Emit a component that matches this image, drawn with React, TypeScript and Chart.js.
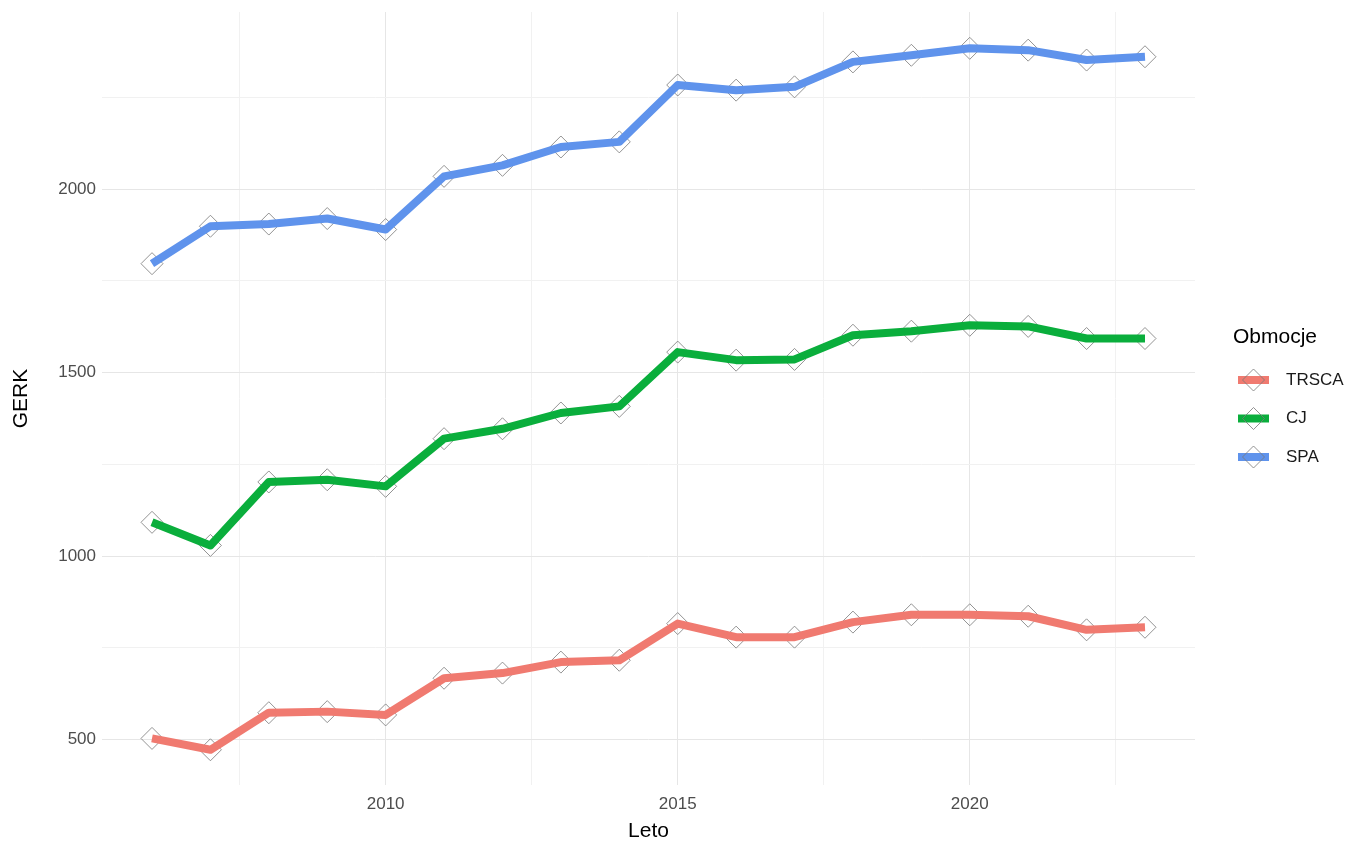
import React, { useEffect, useRef } from "react";
import { Chart, registerables } from "chart.js";

Chart.register(...registerables);

const years = [2006, 2007, 2008, 2009, 2010, 2011, 2012, 2013, 2014, 2015, 2016, 2017, 2018, 2019, 2020, 2021, 2022, 2023];
const trsca = [503, 472, 573, 576, 567, 667, 681, 711, 716, 816, 779, 779, 820, 840, 840, 836, 799, 806];
const cj = [1092, 1029, 1202, 1208, 1190, 1320, 1347, 1390, 1408, 1556, 1534, 1536, 1602, 1613, 1629, 1626, 1593, 1593];
const spa = [1797, 1899, 1905, 1920, 1890, 2035, 2065, 2115, 2129, 2284, 2270, 2279, 2347, 2365, 2384, 2379, 2352, 2361];

const seriesNames = ["TRSCA", "CJ", "SPA"];
const seriesValues = [trsca, cj, spa];
const seriesColors = ["#F07A70", "#0AAE3C", "#5F93EC"];

const yGridValues = [500, 750, 1000, 1250, 1500, 1750, 2000, 2250];
const yLabelValues = [500, 1000, 1500, 2000];
const xGridValues = [2007.5, 2010, 2012.5, 2015, 2017.5, 2020, 2022.5];
const xLabelValues = [2010, 2015, 2020];

const legendTitle = "Obmocje";
const xTitle = "Leto";
const yTitle = "GERK";

const FONT = "'Liberation Sans', Arial, sans-serif";
const MARKER_COLOR = "rgba(120,120,120,0.8)";

const legendPlugin = {
  id: "ggLegend",
  afterDraw(chart: any) {
    const ctx = chart.ctx;
    ctx.save();
    ctx.fillStyle = "#000";
    ctx.font = `21px ${FONT}`;
    ctx.textBaseline = "middle";
    ctx.textAlign = "left";
    ctx.fillText(legendTitle, 1233, 337);
    seriesNames.forEach((name, i) => {
      const y = 380 + i * 38.5;
      ctx.strokeStyle = seriesColors[i];
      ctx.lineWidth = 8;
      ctx.lineCap = "butt";
      ctx.beginPath();
      ctx.moveTo(1238, y);
      ctx.lineTo(1269, y);
      ctx.stroke();
      ctx.strokeStyle = MARKER_COLOR;
      ctx.lineWidth = 1;
      ctx.beginPath();
      ctx.moveTo(1253.5 - 11, y);
      ctx.lineTo(1253.5, y - 11);
      ctx.lineTo(1253.5 + 11, y);
      ctx.lineTo(1253.5, y + 11);
      ctx.closePath();
      ctx.stroke();
      ctx.fillStyle = "#1a1a1a";
      ctx.font = `17px ${FONT}`;
      ctx.fillText(name, 1286, y);
    });
    ctx.restore();
  },
};

export default function App() {
  const ref = useRef<HTMLCanvasElement | null>(null);

  useEffect(() => {
    if (!ref.current) return;
    const lineSets = seriesNames.map((name, i) => ({
      label: name,
      data: years.map((x, j) => ({ x, y: seriesValues[i][j] })),
      borderColor: seriesColors[i],
      backgroundColor: seriesColors[i],
      borderWidth: 8,
      borderCapStyle: "butt",
      borderJoinStyle: "round",
      pointRadius: 0,
      tension: 0,
      order: 1,
    }));
    const pointSets = seriesNames.map((name, i) => ({
      label: name + " points",
      data: years.map((x, j) => ({ x, y: seriesValues[i][j] })),
      showLine: false,
      pointStyle: "rectRot",
      pointRadius: 11,
      pointBorderWidth: 1,
      pointBorderColor: MARKER_COLOR,
      pointBackgroundColor: "rgba(0,0,0,0)",
      order: 2,
    }));

    const chart = new Chart(ref.current, {
      type: "line",
      data: { datasets: [...pointSets, ...lineSets] as any },
      options: {
        animation: false,
        responsive: true,
        maintainAspectRatio: false,
        layout: { padding: { top: 0, right: 163, left: 0, bottom: 0 } },
        plugins: { legend: { display: false }, tooltip: { enabled: false } },
        scales: {
          x: {
            type: "linear",
            min: 2005.144,
            max: 2023.856,
            afterBuildTicks: (scale: any) => {
              scale.ticks = xGridValues.map((v) => ({ value: v }));
            },
            afterFit: (scale: any) => {
              scale.height = 62;
              scale.paddingLeft = 0;
              scale.paddingRight = 0;
            },
            ticks: {
              autoSkip: false,
              maxRotation: 0,
              padding: 9,
              color: "#4d4d4d",
              font: { family: FONT, size: 17 },
              callback: (v: any) => (xLabelValues.includes(Number(v)) ? String(v) : ""),
            },
            grid: {
              drawTicks: false,
              color: (c: any) => (c.tick && Number(c.tick.value) % 5 === 0 ? "#e6e6e6" : "#f1f1f1"),
              lineWidth: 1,
            },
            border: { display: false },
            title: {
              display: true,
              text: xTitle,
              color: "#000",
              font: { family: FONT, size: 21, lineHeight: 1 },
              padding: { top: 0, bottom: 5 },
            },
          },
          y: {
            type: "linear",
            min: 376,
            max: 2483,
            afterBuildTicks: (scale: any) => {
              scale.ticks = yGridValues.map((v) => ({ value: v }));
            },
            afterFit: (scale: any) => {
              scale.width = 102;
              scale.paddingTop = 0;
              scale.paddingBottom = 0;
            },
            ticks: {
              autoSkip: false,
              padding: 6,
              color: "#4d4d4d",
              font: { family: FONT, size: 17 },
              callback: (v: any) => (yLabelValues.includes(Number(v)) ? String(v) : ""),
            },
            grid: {
              drawTicks: false,
              color: (c: any) => (c.tick && Number(c.tick.value) % 500 === 0 ? "#e6e6e6" : "#f1f1f1"),
              lineWidth: 1,
            },
            border: { display: false },
            title: {
              display: true,
              text: yTitle,
              color: "#000",
              font: { family: FONT, size: 21, lineHeight: 1 },
              padding: { top: 11, bottom: 0 },
            },
          },
        },
      },
      plugins: [legendPlugin],
    });
    return () => chart.destroy();
  }, []);

  return (
    <div style={{ position: "absolute", left: 0, top: 0, width: 1358, height: 847, background: "#fff" }}>
      <canvas ref={ref} />
    </div>
  );
}
